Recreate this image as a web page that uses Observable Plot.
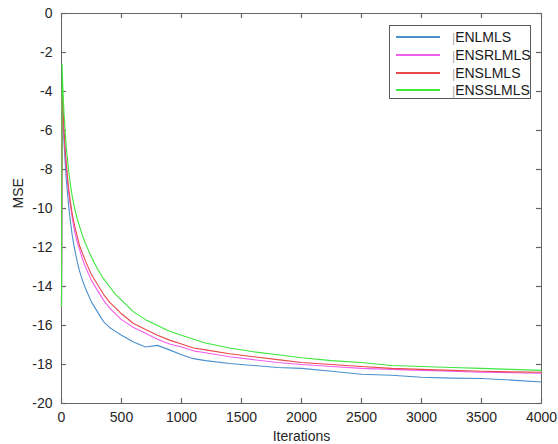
<!DOCTYPE html>
<html>
<head>
<meta charset="utf-8">
<script src="https://cdn.jsdelivr.net/npm/d3@7"></script>
<script src="https://cdn.jsdelivr.net/npm/@observablehq/plot@0.6"></script>
<style>
  html, body { margin: 0; padding: 0; background: #fff; }
  #wrap { position: relative; width: 558px; height: 444px; overflow: hidden; font-family: "Liberation Sans", Arial, sans-serif; }
  #legend { position: absolute; left: 389px; top: 25px; width: 142px; height: 74px; border: 1px solid #5a5a5a; background: #fff; box-sizing: border-box; }
  .lg-line { position: absolute; left: 6px; width: 44px; height: 2px; }
  .lg-text { position: absolute; left: 62px; font-size: 14px; line-height: 16px; color: #1a1a1a; white-space: nowrap; }
  .lg-bar { color: #aaaaaa; font-size: 12px; }
</style>
</head>
<body>
<div id="wrap"></div>
<script>
const seriesNames = ["ENLMLS", "ENSRLMLS", "ENSLMLS", "ENSSLMLS"];
const seriesColors = ["#4a90cc", "#f05ef0", "#e8474c", "#3ee63e"];

const iterations = [0, 5, 10, 20, 30, 40, 50, 60, 75, 90, 110, 130, 150, 175, 200, 250, 300, 350, 400, 450, 500, 600, 700, 800, 900, 1000, 1100, 1200, 1400, 1600, 1800, 2000, 2250, 2500, 2750, 3000, 3250, 3500, 3750, 4000];

const mseENLMLS = [-15, -3.9, -5.0, -6.5, -7.6, -8.5, -9.2, -9.9, -10.7, -11.4, -12.1, -12.7, -13.2, -13.7, -14.1, -14.8, -15.3, -15.8, -16.1, -16.3, -16.5, -16.85, -17.1, -17.02, -17.25, -17.5, -17.7, -17.8, -17.95, -18.05, -18.15, -18.2, -18.35, -18.5, -18.55, -18.65, -18.7, -18.72, -18.8, -18.9];
const mseENSRLMLS = [-15, -3.9, -4.7, -6.1, -7.1, -7.9, -8.6, -9.2, -9.9, -10.5, -11.2, -11.7, -12.1, -12.6, -13.0, -13.7, -14.2, -14.7, -15.1, -15.4, -15.7, -16.1, -16.4, -16.7, -16.95, -17.1, -17.3, -17.4, -17.6, -17.75, -17.9, -18.0, -18.1, -18.2, -18.25, -18.3, -18.35, -18.4, -18.42, -18.45];
const mseENSLMLS = [-15, -3.8, -4.6, -5.9, -6.9, -7.7, -8.4, -9.0, -9.7, -10.3, -10.9, -11.4, -11.9, -12.3, -12.7, -13.4, -13.9, -14.4, -14.8, -15.1, -15.4, -15.9, -16.2, -16.5, -16.75, -16.95, -17.15, -17.25, -17.45, -17.6, -17.75, -17.9, -18.0, -18.1, -18.2, -18.25, -18.3, -18.35, -18.38, -18.4];
const mseENSSLMLS = [-15, -2.6, -3.6, -5.0, -6.0, -6.9, -7.5, -8.1, -8.8, -9.4, -10.0, -10.5, -10.9, -11.4, -11.8, -12.5, -13.1, -13.6, -14.0, -14.4, -14.7, -15.3, -15.7, -16.0, -16.3, -16.5, -16.7, -16.9, -17.15, -17.35, -17.5, -17.65, -17.8, -17.9, -18.05, -18.1, -18.15, -18.2, -18.25, -18.3];

const xTicks = [0, 500, 1000, 1500, 2000, 2500, 3000, 3500, 4000];
const yTicks = [0, -2, -4, -6, -8, -10, -12, -14, -16, -18, -20];

const allSeries = [mseENLMLS, mseENSRLMLS, mseENSLMLS, mseENSSLMLS];
const rows = [];
allSeries.forEach((vals, s) => {
  vals.forEach((v, i) => rows.push({name: seriesNames[s], iter: iterations[i], mse: v}));
});

const W = 558, H = 444, mL = 61, mR = 17, mT = 13, mB = 41, tick = 5;
const frameW = W - mL - mR, frameH = H - mT - mB;
const axisGray = "#666666";
const textColor = "#262626";

const chart = Plot.plot({
  width: W,
  height: H,
  marginLeft: mL,
  marginRight: mR,
  marginTop: mT,
  marginBottom: mB,
  style: {fontFamily: "Liberation Sans, Arial, sans-serif", fontSize: "14px", color: textColor, background: "#fff"},
  x: {domain: [0, 4000]},
  y: {domain: [-20, 0]},
  color: {domain: seriesNames, range: seriesColors},
  marks: [
    Plot.frame({stroke: axisGray}),
    // inward ticks on all four sides (full-frame ticks inset down to 5px)
    Plot.tickX(xTicks, {x: d => d, stroke: axisGray, strokeWidth: 1.2, insetTop: frameH - tick}),
    Plot.tickX(xTicks, {x: d => d, stroke: axisGray, strokeWidth: 1.2, insetBottom: frameH - tick}),
    Plot.tickY(yTicks, {y: d => d, stroke: axisGray, strokeWidth: 1.2, insetRight: frameW - tick}),
    Plot.tickY(yTicks, {y: d => d, stroke: axisGray, strokeWidth: 1.2, insetLeft: frameW - tick}),
    Plot.axisX(xTicks, {anchor: "bottom", tickSize: 0, tickPadding: 9, fill: textColor, label: null, tickFormat: d => String(d)}),
    Plot.axisY(yTicks, {anchor: "left", tickSize: 0, tickPadding: 9, fill: textColor, label: null, tickFormat: d => String(d)}),
    Plot.line(rows, {x: "iter", y: "mse", z: "name", stroke: "name", strokeWidth: 1.1}),
    Plot.text(["Iterations"], {frameAnchor: "bottom", dy: 37, fill: textColor, fontSize: 14}),
    Plot.text(["MSE"], {frameAnchor: "left", dx: -43, rotate: -90, fill: textColor, fontSize: 14})
  ]
});

const wrap = document.getElementById("wrap");
wrap.appendChild(chart);

// legend overlay
const legend = document.createElement("div");
legend.id = "legend";
seriesNames.forEach((name, i) => {
  const y = Math.round(11 + i * 17.8);
  const ln = document.createElement("div");
  ln.className = "lg-line";
  ln.style.top = (y - 1) + "px";
  ln.style.background = seriesColors[i];
  legend.appendChild(ln);
  const t = document.createElement("div");
  t.className = "lg-text";
  t.style.top = (y - 8) + "px";
  const bar = document.createElement("span");
  bar.className = "lg-bar";
  bar.textContent = "|";
  t.appendChild(bar);
  t.appendChild(document.createTextNode(name));
  legend.appendChild(t);
});
wrap.appendChild(legend);
</script>
</body>
</html>
